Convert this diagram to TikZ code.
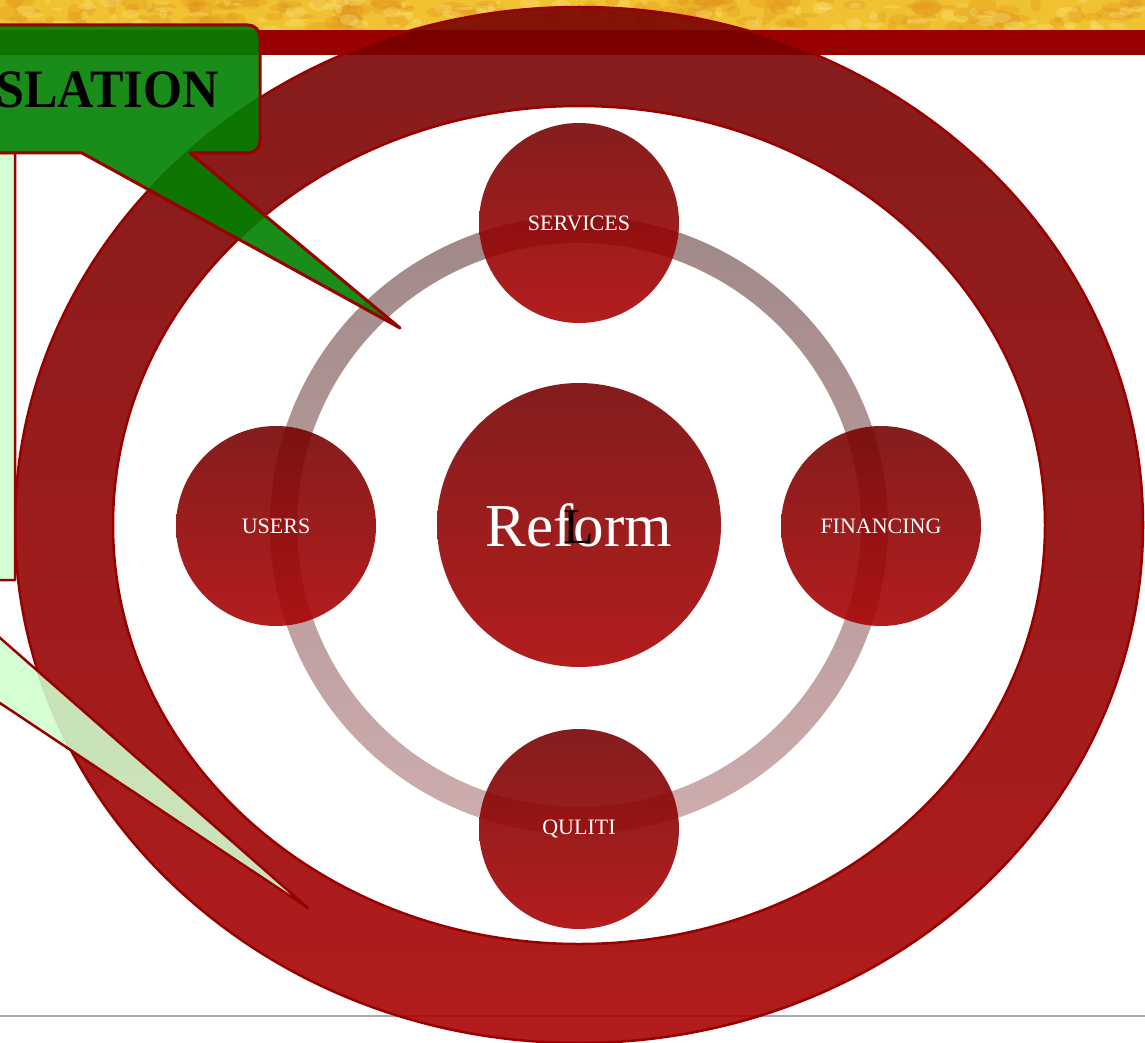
\documentclass[tikz,border=0pt]{standalone}
\usepackage{fontspec}
\setmainfont{Liberation Serif}
\definecolor{bordred}{HTML}{990000}
\definecolor{ringtop}{HTML}{760000}
\definecolor{ringbot}{HTML}{A90000}
\definecolor{ctop}{HTML}{760202}
\definecolor{cbot}{HTML}{AA0202}
\definecolor{gtop}{HTML}{9C8282}
\definecolor{gbot}{HTML}{CCA9A9}
\definecolor{gold}{HTML}{F0C232}
\definecolor{goldd}{HTML}{E0901A}
\definecolor{goldl}{HTML}{FAE27A}
\definecolor{calg}{rgb}{0,0.5,0}
\definecolor{lightg}{rgb}{0.81,1,0.81}
\definecolor{grayline}{HTML}{AAAAAA}
\begin{document}
\begin{tikzpicture}[x=1pt,y=-1pt,
  bubble/.style={circle, minimum size=200pt, inner sep=0pt, top color=ctop, bottom color=cbot,
    fill opacity=0.89, text opacity=1, text=white, font=\fontsize{22}{22}\selectfont},
  callout/.style={draw=bordred, line width=2.5pt, line join=round}]
\useasboundingbox (0,0) rectangle (1145,1043);
\fill[white] (0,0) rectangle (1145,1043);
% golden textured strip
\begin{scope}
  \clip (0,0) rectangle (1145,31);
  \fill[gold] (0,0) rectangle (1145,31);
  \pgfmathsetseed{11}
  \foreach \i in {1,...,160}{
    \fill[goldd, opacity=0.3] ({rnd*1145},{rnd*31}) ellipse ({4+rnd*14} and {2+rnd*7});
  }
  \foreach \i in {1,...,120}{
    \fill[goldl, opacity=0.35] ({rnd*1145},{rnd*31}) ellipse ({2+rnd*9} and {1+rnd*5});
  }
\end{scope}
% red bar and bottom rule
\fill[bordred] (0,30) rectangle (1145,55);
\draw[grayline, line width=2.5pt] (0,1016) -- (1145,1016);
% inner gray ring
\shade[even odd rule, top color=gtop, bottom color=gbot, fill opacity=0.95]
  (579,525) circle (309) (579,525) circle (282);
% bubbles
\node[bubble] (serv) at (579,223) {SERVICES};
\node[bubble] (users) at (276,526) {USERS};
\node[bubble] (fin) at (881,526) {FINANCING};
\node[bubble] (qul) at (579,829) {QULITI};
\node[bubble, minimum size=284pt, font=\fontsize{61}{61}\selectfont] (reform) at (579,525) {Reform};
\node[inner sep=0pt, text=black, font=\fontsize{50}{50}\selectfont] (L) at (579,527) {L};
% big ring
\path[even odd rule, draw=bordred, line width=2.5pt, top color=ringtop, bottom color=ringbot, fill opacity=0.89]
  (579,525) ellipse (564 and 518) (579,525) ellipse (466 and 419);
% light green callout
\path[callout, fill=lightg, fill opacity=0.88]
  (-400,153) -- (15,153) -- (15,580) -- (-66,580) -- (308,908) -- (-185,580) -- (-400,580) -- cycle;
% green callout
\path[callout, line width=3pt, fill=calg, fill opacity=0.9]
  (-400,25) -- (248,25) .. controls (254.6,25) and (260,30.4) .. (260,37)
  -- (260,141) .. controls (260,147.6) and (254.6,153) .. (248,153)
  -- (190,153) -- (400,328) -- (82,153) -- (-400,153) -- cycle;
\node[anchor=base east, inner sep=0pt, text=black, font=\bfseries\fontsize{54}{54}\selectfont] (leg) at (219,108) {\scalebox{0.93}[1]{LEGISLATION}};
\end{tikzpicture}
\end{document}
